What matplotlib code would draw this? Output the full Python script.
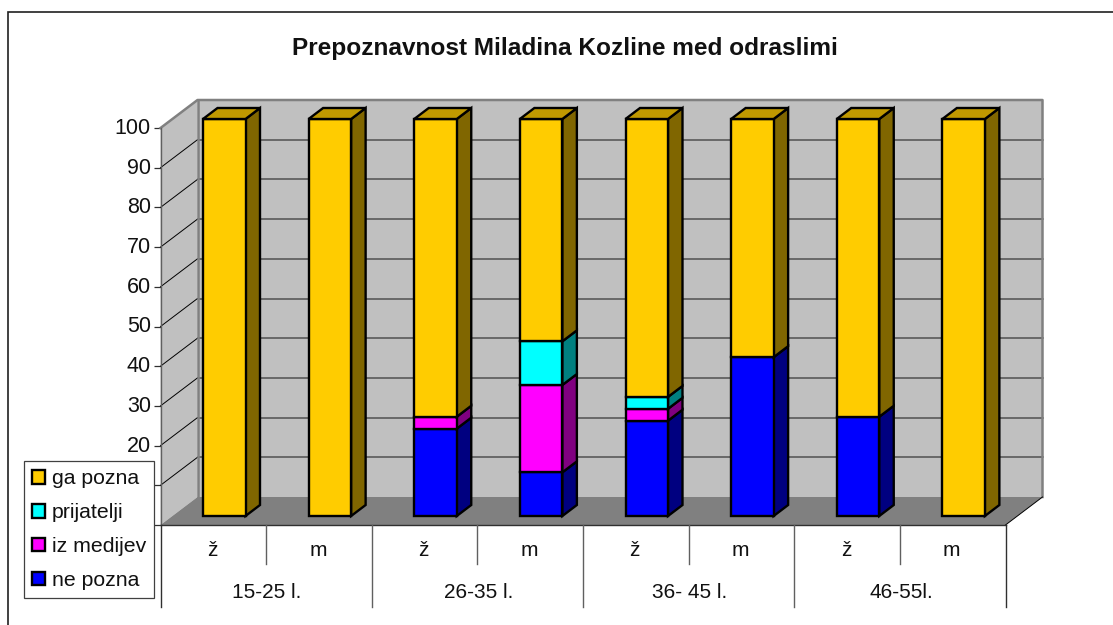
import matplotlib
matplotlib.use("Agg")
import matplotlib.pyplot as plt
from matplotlib.patches import Patch, Polygon, Rectangle
from matplotlib.transforms import ScaledTranslation

plt.rcParams["font.family"] = ["Liberation Sans", "DejaVu Sans"]

sexes = ["ž", "m", "ž", "m", "ž", "m", "ž", "m"]
age_groups = ["15-25 l.", "26-35 l.", "36- 45 l.", "46-55l."]
y_ticks = [0, 10, 20, 30, 40, 50, 60, 70, 80, 90, 100]
# 0 in 10 sta v izvirniku skrita pod legendo
y_labels = ["", "", "20", "30", "40", "50", "60", "70", "80", "90", "100"]

ne_pozna = [0, 0, 22, 11, 24, 40, 25, 0]
iz_medijev = [0, 0, 3, 22, 3, 0, 0, 0]
prijatelji = [0, 0, 0, 11, 3, 0, 0, 0]
ga_pozna = [100, 100, 75, 56, 70, 60, 75, 100]

series = [
    ("ne pozna", ne_pozna, "#0000FF", "#000080"),
    ("iz medijev", iz_medijev, "#FF00FF", "#800080"),
    ("prijatelji", prijatelji, "#00FFFF", "#008080"),
    ("ga pozna", ga_pozna, "#FFCC00", "#806600"),
]

W, H = 1113, 625
fig = plt.figure(figsize=(W / 100, H / 100), dpi=100)
ax = fig.add_axes([160.5 / W, 1 - 525 / H, 845 / W, 397 / H])
ax.set_xlim(0, 8)
ax.set_ylim(0, 100)
ax.patch.set_visible(False)

# pixels to data units
px = 8 / 845
py = 100 / 397
wall_dx, wall_dy = 37 * px, 28 * py
bar_dx, bar_dy = 14.5 * px, 11 * py
bar_x0, bar_y0 = 42.5 * px, 9 * py
bar_w = 42.5 * px


def poly(pts, fc, ec="none", lw=0.0, z=1):
    ax.add_patch(Polygon(pts, closed=True, facecolor=fc, edgecolor=ec, linewidth=lw,
                         joinstyle="miter", clip_on=False, zorder=z))


# zidovi in tla
poly([(0, 0), (wall_dx, wall_dy), (wall_dx, 100 + wall_dy), (0, 100)], "#C0C0C0", z=1)
poly([(wall_dx, wall_dy), (8 + wall_dx, wall_dy), (8 + wall_dx, 100 + wall_dy), (wall_dx, 100 + wall_dy)],
     "#C0C0C0", z=1)
poly([(0, 0), (8, 0), (8 + wall_dx, wall_dy), (wall_dx, wall_dy)], "#808080", z=1)

for v in range(10, 100, 10):
    ax.plot([wall_dx, 8 + wall_dx], [v + wall_dy, v + wall_dy], color="#505050", lw=1.1, clip_on=False, zorder=2)
    ax.plot([0, wall_dx], [v, v + wall_dy], color="black", lw=0.7, clip_on=False, zorder=2)

ax.plot([0, wall_dx, 8 + wall_dx, 8 + wall_dx], [100, 100 + wall_dy, 100 + wall_dy, wall_dy],
        color="#808080", lw=1.8, clip_on=False, zorder=2)
ax.plot([wall_dx, wall_dx], [wall_dy, 100 + wall_dy], color="#808080", lw=1.8, clip_on=False, zorder=2)
ax.plot([0, 0], [0, 100], color="#606060", lw=1.0, clip_on=False, zorder=2)
ax.plot([8, 8 + wall_dx], [0, wall_dy], color="black", lw=0.7, clip_on=False, zorder=2)

# stolpci
for i in range(len(sexes)):
    x0 = i + bar_x0
    x1 = x0 + bar_w
    bottom = bar_y0
    for name, values, face, side in series:
        v = values[i]
        if v == 0:
            continue
        top = bottom + v
        poly([(x1, bottom), (x1 + bar_dx, bottom + bar_dy), (x1 + bar_dx, top + bar_dy), (x1, top)],
             side, "black", 1.7, 3)
        ax.add_patch(Rectangle((x0, bottom), bar_w, v, facecolor=face, edgecolor="black", linewidth=1.7,
                               joinstyle="miter", clip_on=False, zorder=3))
        bottom = top
    poly([(x0, bottom), (x1, bottom), (x1 + bar_dx, bottom + bar_dy), (x0 + bar_dx, bottom + bar_dy)],
         "#C09900", "black", 1.7, 3)

# os y
ax.set_yticks(y_ticks)
ax.set_yticklabels(y_labels)
ax.set_xticks([])
ax.tick_params(axis="y", length=5, width=0.9, color="#303030", labelsize=15.5, pad=2, labelcolor="#111111")
for lab in ax.get_yticklabels():
    lab.set_transform(lab.get_transform() + ScaledTranslation(0, 2 / 100, fig.dpi_scale_trans))
for s in ax.spines.values():
    s.set_visible(False)

# os x, dve vrsti oznak
ax.plot([0, 8], [0, 0], color="#303030", lw=1.0, clip_on=False, zorder=2)
for i, lab in enumerate(sexes):
    ax.annotate(lab, (i + 0.5, 0), xytext=(-1, -26), textcoords="offset pixels", ha="center", va="center",
                fontsize=15, color="#111111", annotation_clip=False)
for i in range(9):
    depth = 82 if i % 2 == 0 else 39
    col = "#303030" if i % 8 == 0 else "#606060"
    ax.plot([i, i], [0, -depth * py], color=col, lw=1.0, clip_on=False, zorder=2)
for g, lab in enumerate(age_groups):
    ax.annotate(lab, (2 * g + 1, 0), xytext=(1, -67), textcoords="offset pixels", ha="center", va="center",
                fontsize=15, color="#111111", annotation_clip=False)

fig.text(564.5 / W, 1 - 48 / H, "Prepoznavnost Miladina Kozline med odraslimi", ha="center", va="center",
         fontsize=17.6, fontweight="bold", color="#111111")

handles = [Patch(facecolor=s[2], edgecolor="black", linewidth=1.7, label=s[0]) for s in reversed(series)]
leg = fig.legend(handles=handles, loc="lower left", bbox_to_anchor=(24 / W, 1 - 598 / H), borderaxespad=0,
                 fontsize=15.3, fancybox=False, framealpha=1, edgecolor="#404040", handlelength=0.62,
                 handleheight=0.62, handletextpad=0.3, labelspacing=0.7, borderpad=0.38, labelcolor="#111111")
leg.get_frame().set_linewidth(0.9)
leg.set_zorder(10)

# okvir grafikona
fig.add_artist(Rectangle((8 / W, -20 / H), 1200 / W, (20 + 613) / H, transform=fig.transFigure, fill=False,
                         edgecolor="#202020", linewidth=1.2))

fig.savefig("out.png", dpi=100)
